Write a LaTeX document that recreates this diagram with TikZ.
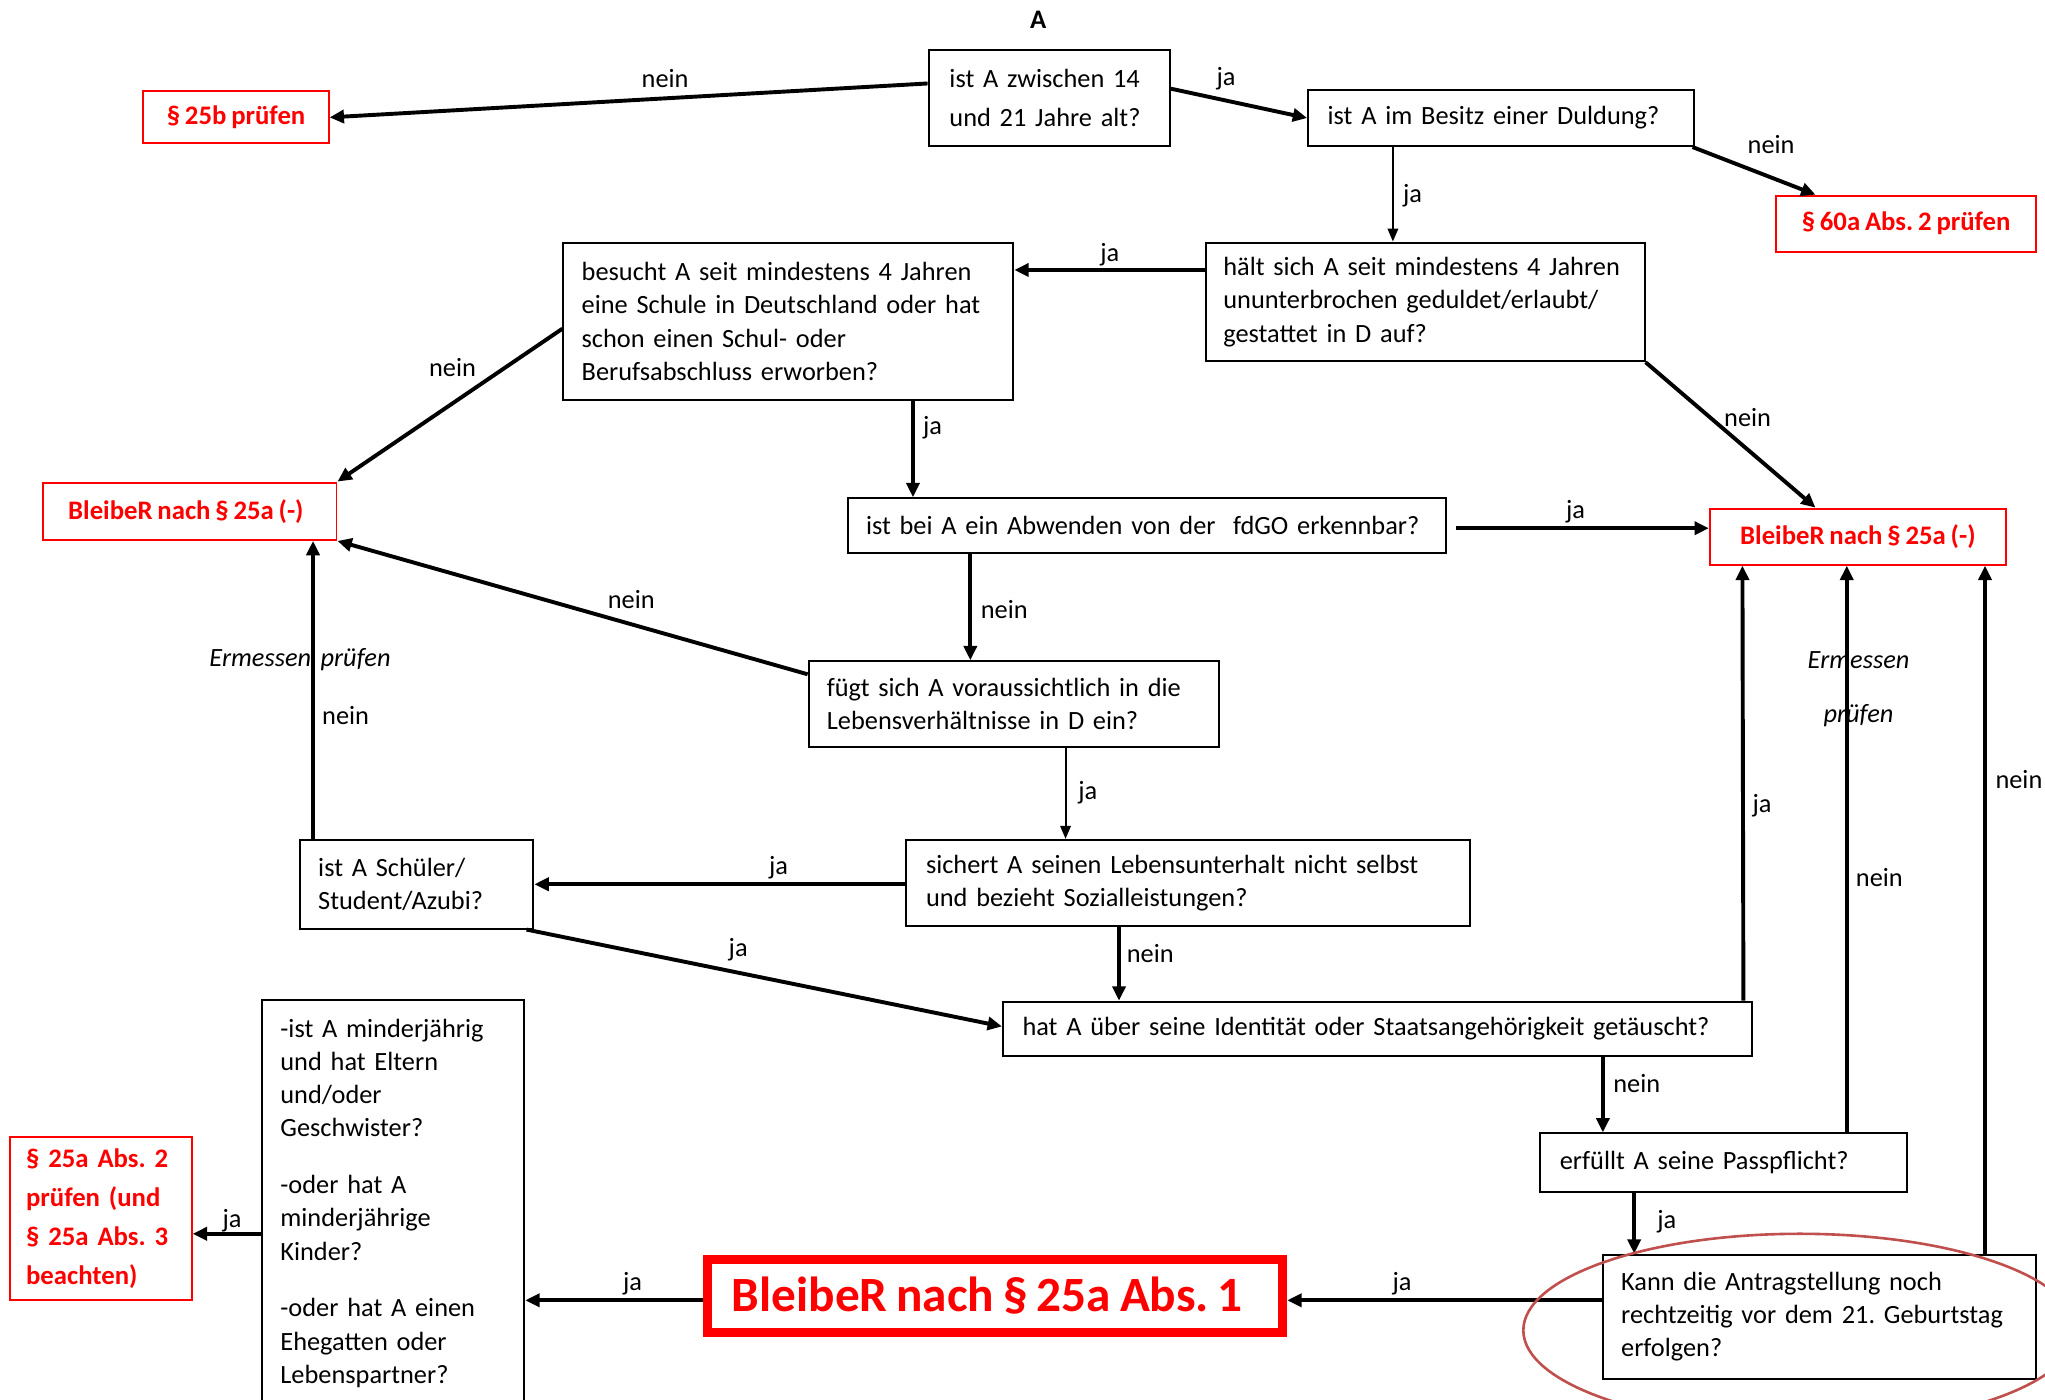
\documentclass[tikz,border=0pt]{standalone}
\usepackage{fontspec}
\setmainfont{Carlito}[WordSpace=0.8]
\usetikzlibrary{arrows.meta}
\definecolor{rd}{RGB}{255,0,0}
\definecolor{ellc}{RGB}{192,80,77}
\frenchspacing
\begin{document}
\begin{tikzpicture}[x=1pt,y=-1pt,
  every node/.style={font=\fontsize{20.2}{25.5}\selectfont},
  qbox/.style={draw, line width=1.5pt, align=left, inner xsep=14pt, inner ysep=0pt},
  rbox/.style={draw=rd, text=rd, line width=1.5pt, font=\fontsize{20.5}{25.5}\selectfont\bfseries, inner xsep=12pt, inner ysep=0pt},
  arr/.style={line width=3pt, -{Triangle[length=11pt,width=10pt]}},
  tarr/.style={line width=1.6pt, -{Triangle[length=10pt,width=8pt]}},
  lbl/.style={inner sep=0pt},
  ilbl/.style={inner sep=0pt, font=\fontsize{20.2}{25.5}\selectfont\itshape},
]
\fill[white] (0,0) rectangle (1568,1073);
\useasboundingbox (0,0) rectangle (1568,1073);

% title
\node[font=\fontsize{20.5}{25.5}\selectfont\bfseries] (title) at (796,15) {A};

% question boxes
\node[qbox, inner xsep=16pt, text width=153pt, minimum height=74pt, font=\fontsize{20.2}{30}\selectfont] (B1) at (804.5,75) {ist A zwischen 14\\und 21 Jahre alt?};
\node[qbox, inner xsep=15pt, text width=266pt, minimum height=43pt] (B2) at (1151,90.5) {ist A im Besitz einer Duldung?};
\node[qbox, inner xsep=13pt, text width=310pt, minimum height=91pt] (B3) at (1093,231.5) {hält sich A seit mindestens 4 Jahren\\ununterbrochen geduldet/erlaubt/\\gestattet in D auf?};
\node[qbox, text width=317pt, minimum height=121pt] (B4) at (604.5,246.5) {besucht A seit mindestens 4 Jahren\\eine Schule in Deutschland oder hat\\schon einen Schul- oder\\Berufsabschluss erworben?};
\node[qbox, text width=431pt, minimum height=42pt] (B5) at (879.5,403) {ist bei A ein Abwenden von der\ \ fdGO erkennbar?};
\node[qbox, text width=287pt, minimum height=66pt] (B6) at (777.5,540) {fügt sich A voraussichtlich in die\\Lebensverhältnisse in D ein?};
\node[qbox, inner xsep=15pt, text width=402pt, minimum height=66pt] (B7) at (911,677) {sichert A seinen Lebensunterhalt nicht selbst\\und bezieht Sozialleistungen?};
\node[qbox, text width=151pt, minimum height=68pt] (B8) at (319.5,678) {ist A Schüler/\\Student/Azubi?};
\node[qbox, inner xsep=15pt, text width=544pt, minimum height=42pt] (B9) at (1056,789) {hat A über seine Identität oder Staatsangehörigkeit getäuscht?};
\node[qbox, inner xsep=15pt, text width=251pt, minimum height=45pt] (B10) at (1321.5,891.5) {erfüllt A seine Passpflicht?};
\node[qbox, text width=304pt, minimum height=95pt] (B11) at (1395,1009.5) {Kann die Antragstellung noch\\rechtzeitig vor dem 21. Geburtstag\\erfolgen?};
\node[qbox, text width=173pt, minimum height=311pt] (B12) at (301.5,922.5) {-ist A minderjährig\\und hat Eltern\\und/oder\\Geschwister?\\[18pt]-oder hat A\\minderjährige\\Kinder?\\[18pt]-oder hat A einen\\Ehegatten oder\\Lebenspartner?};

% red result boxes
\node[rbox, minimum width=142pt, minimum height=40pt] (R25b) at (181,90) {§ 25b prüfen};
\node[rbox, minimum width=199pt, minimum height=43pt] (R60a) at (1461.5,171.5) {§ 60a Abs. 2 prüfen};
\node[rbox, minimum width=225pt, minimum height=44pt] (RL) at (145.5,392) {BleibeR nach § 25a (-)\hspace*{6pt}};
\node[rbox, minimum width=227pt, minimum height=43pt] (RR) at (1424.5,411.5) {BleibeR nach § 25a (-)};
\node[rbox, align=left, text width=115pt, minimum height=125pt, font=\fontsize{20.5}{30}\selectfont\bfseries] (R25a2) at (77.5,934.5) {§ 25a Abs. 2\\prüfen (und\\§ 25a Abs. 3\\beachten)};
\node[rbox, line width=7pt, minimum width=441pt, minimum height=56pt, font=\fontsize{37.8}{45}\selectfont\bfseries] (BIG) at (763,993.5) {BleibeR nach § 25a Abs. 1\hspace*{12pt}};

% connectors
\draw[arr] ([yshift=11pt]B1.west) -- (R25b.east);
\draw[arr] ([yshift=7pt]B1.east) -- (B2.west);
\draw[arr] ([xshift=-2pt]B2.south east) -- ([xshift=-69.5pt]R60a.north);
\draw[tarr] ([xshift=-83pt]B2.south) -- ([xshift=-25pt]B3.north);
\draw[arr] ([yshift=24.5pt]B3.west) -- ([yshift=39.5pt]B4.east);
\draw[arr] (B3.south east) -- ([xshift=-32.5pt]RR.north);
\draw[arr] ([yshift=-5.5pt]B4.west) -- (RL.north east);
\draw[arr] ([xshift=95.5pt]B4.south) -- ([xshift=-179.5pt]B5.north);
\draw[arr] ([xshift=7pt,yshift=-2pt]B5.east) -- ([yshift=6.5pt]RR.west);
\draw[arr] ([xshift=-135.5pt]B5.south) -- ([xshift=-33.5pt]B6.north);
\draw[arr] ([yshift=23pt]B6.west) -- (RL.south east);
\draw[tarr] ([xshift=39.5pt]B6.south) -- ([xshift=-94pt]B7.north);
\draw[arr] ([yshift=-1pt]B7.west) -- (B8.east);
\draw[arr] ([xshift=-79.5pt]B8.north) -- ([xshift=94.5pt]RL.south);
\draw[arr] ([xshift=-53pt]B7.south) -- ([xshift=-198pt]B9.north);
\draw[arr] ([xshift=-6pt]B8.south east) -- ([yshift=2pt]B9.west);
\draw[arr] ([xshift=-7pt]B9.north east) -- ([xshift=-88.5pt]RR.south);
\draw[arr] ([xshift=173pt]B9.south) -- ([xshift=-92.5pt]B10.north);
\draw[arr] ([xshift=94.5pt]B10.north) -- ([xshift=-8.5pt]RR.south);
\draw[arr] ([xshift=-68.5pt]B10.south) -- ([xshift=-142pt]B11.north);
\draw[arr] ([xshift=127pt]B11.north) -- ([xshift=97.5pt]RR.south);
\draw[arr] ([yshift=12.5pt]B11.west) -- ([yshift=-3.5pt]BIG.east);
\draw[arr] ([yshift=-3.5pt]BIG.west) -- ([yshift=-74.5pt]B12.east);
\draw[arr] ([yshift=-23.5pt]B12.west) -- ([yshift=-11.5pt]R25a2.east);

% connector labels
\node[lbl] (l1) at (510,60) {nein};
\node[lbl] (l2) at (940,60) {ja};
\node[lbl] (l3) at (1358,111) {nein};
\node[lbl] (l4) at (1083,150) {ja};
\node[lbl] (l5) at (851,195) {ja};
\node[lbl] (l6) at (1340,320) {nein};
\node[lbl] (l7) at (347,282) {nein};
\node[lbl] (l8) at (715,328) {ja};
\node[lbl] (l9) at (1208,392) {ja};
\node[lbl] (l10) at (770,467) {nein};
\node[lbl] (l11) at (484,460) {nein};
\node[lbl] (l12) at (834,608) {ja};
\node[lbl] (l13) at (597,665) {ja};
\node[ilbl] (l14) at (230,506) {Ermessen\ \ prüfen};
\node[lbl] (l15) at (265,549) {nein};
\node[lbl] (l16) at (882,731) {nein};
\node[lbl] (l17) at (566,728) {ja};
\node[lbl] (l18) at (1351,618) {ja};
\node[lbl] (l19) at (1255,831) {nein};
\node[ilbl] (l20) at (1425,506) {Ermessen};
\node[ilbl] (l21) at (1425,549) {prüfen};
\node[lbl] (l22) at (1441,673) {nein};
\node[lbl] (l23) at (1278,937) {ja};
\node[lbl] (l24) at (1548,598) {nein};
\node[lbl] (l25) at (1075,984) {ja};
\node[lbl] (l26) at (485,984) {ja};
\node[lbl] (l27) at (178,936) {ja};

% red highlight ellipse
\draw[ellc, line width=2pt] (1380,1020) ellipse [x radius=212pt, y radius=74pt];
\end{tikzpicture}
\end{document}
